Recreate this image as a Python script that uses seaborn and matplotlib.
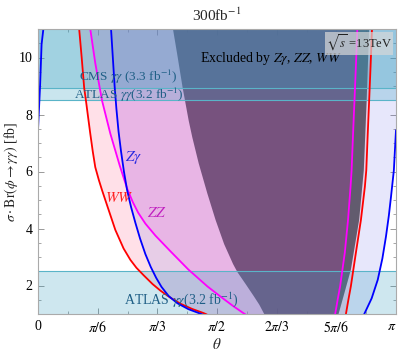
import numpy as np
import matplotlib
matplotlib.use("Agg")
import matplotlib.pyplot as plt
import seaborn as sns

# curves, theta in units of pi
ww_left_t = [0.115, 0.122, 0.129, 0.134, 0.140, 0.146, 0.153, 0.160, 0.170, 0.179, 0.188, 0.200, 0.216,
             0.239, 0.258, 0.275, 0.295, 0.320, 0.342, 0.370, 0.398, 0.430, 0.463, 0.472]
ww_left_y = [11.0, 10.0, 8.93, 8.48, 7.90, 7.33, 6.70, 6.15, 5.70, 5.34, 5.00, 4.55, 3.95,
             3.30, 2.90, 2.62, 2.36, 2.05, 1.82, 1.57, 1.36, 1.18, 1.03, 0.98]
ww_right_t = [0.858, 0.860, 0.867, 0.874, 0.888, 0.902, 0.913, 0.917, 0.921, 0.925, 0.929, 0.933]
ww_right_y = [0.95, 0.99, 1.50, 1.98, 3.15, 4.30, 5.46, 6.04, 7.30, 8.48, 9.70, 11.0]

zz_left_t = [0.146, 0.160, 0.179, 0.202, 0.228, 0.249, 0.265, 0.280, 0.300, 0.328, 0.370, 0.420, 0.473,
             0.513, 0.545, 0.575, 0.580]
zz_left_y = [11.0, 9.80, 8.48, 7.33, 6.22, 5.40, 4.92, 4.55, 4.17, 3.75, 3.20, 2.56, 1.97,
             1.58, 1.28, 1.02, 0.98]
zz_right_t = [0.826, 0.830, 0.837, 0.844, 0.857, 0.866, 0.873, 0.876, 0.880, 0.884, 0.888, 0.892]
zz_right_y = [0.95, 0.99, 1.50, 1.98, 3.15, 4.30, 5.46, 6.04, 7.30, 8.48, 9.70, 11.0]

za_left_t = [0.0, 0.006, 0.010, 0.015]
za_left_y = [7.45, 9.07, 10.46, 11.0]
za_mid_t = [0.204, 0.209, 0.214, 0.219, 0.225, 0.232, 0.240, 0.249, 0.260, 0.272, 0.285, 0.300, 0.315,
            0.330, 0.345, 0.365, 0.389, 0.420, 0.454, 0.462]
za_mid_y = [11.0, 10.0, 9.00, 8.20, 7.40, 6.70, 6.00, 5.34, 4.75, 4.20, 3.65, 3.10, 2.65,
            2.27, 1.95, 1.63, 1.38, 1.17, 1.01, 0.97]
za_right_t = [0.909, 0.911, 0.932, 0.949, 0.962, 0.972, 0.980, 0.986, 0.994, 1.0]
za_right_y = [0.95, 0.99, 1.55, 2.20, 2.95, 3.72, 4.45, 5.11, 6.04, 7.45]

excl_left_t = [0.377, 0.389, 0.404, 0.421, 0.431, 0.449, 0.473, 0.496, 0.520, 0.545, 0.557, 0.580, 0.603,
               0.618, 0.631, 0.634]
excl_left_y = [11.0, 10.1, 8.94, 7.78, 7.20, 6.28, 5.23, 4.30, 3.45, 2.75, 2.47, 2.05, 1.62,
               1.33, 1.02, 0.95]
excl_right_t = [0.838, 0.840, 0.874, 0.897, 0.910, 0.918, 0.925]
excl_right_y = [0.95, 1.02, 2.56, 4.30, 6.04, 8.48, 11.0]

# experimental bands (lower edge of excluded region)
cms_limit = 8.93
atlas_limit = 8.5
atlas_low = 2.5

xtick_pos = [0, 1/6, 1/3, 1/2, 2/3, 5/6, 1]
xtick_lab = ["0", r"$\pi/6$", r"$\pi/3$", r"$\pi/2$", r"$2\pi/3$", r"$5\pi/6$", r"$\pi$"]
ytick_pos = [2, 4, 6, 8, 10]

sns.set_theme(style="ticks")
plt.rcParams["font.family"] = ["Liberation Serif", "DejaVu Serif"]
plt.rcParams["mathtext.fontset"] = "stix"

YMIN, YMAX = 1, 11
fig = plt.figure(figsize=(3.99, 3.54), dpi=100)
ax = fig.add_axes([38 / 399, 1 - 314 / 354, 358 / 399, 285 / 354])


def region(ax, t, y, **kw):
    ax.fill(np.array(t) * np.pi, y, lw=0, **kw)


# WW excluded (above red)
region(ax, ww_left_t + ww_right_t, ww_left_y + ww_right_y, color="#ff4070", alpha=0.16, zorder=1)
# Z gamma excluded (above blue)
region(ax, za_mid_t + za_right_t + [1.0], za_mid_y + za_right_y + [YMAX + 1], color="#6464e6", alpha=0.15, zorder=1)
region(ax, za_left_t + [0.0], za_left_y + [YMAX + 1], color="#6464e6", alpha=0.15, zorder=1)
# combined exclusion
region(ax, excl_left_t + excl_right_t, excl_left_y + excl_right_y, color="#3c374b", alpha=0.88, zorder=2)
# lighter strip of the combined region right of the ZZ branch
region(ax, zz_right_t + excl_right_t[::-1], zz_right_y + excl_right_y[::-1], color="white", alpha=0.1, zorder=2)
# ZZ excluded (above magenta)
region(ax, zz_left_t + zz_right_t, zz_left_y + zz_right_y, color="#eb6ee1", alpha=0.25, zorder=3)

# gamma gamma bands
band_c = "#329ebe"
ax.axhspan(cms_limit, YMAX + 1, color=band_c, alpha=0.26, lw=0, zorder=4)
ax.axhspan(atlas_limit, YMAX + 1, color=band_c, alpha=0.26, lw=0, zorder=4)
ax.axhspan(YMIN - 1, atlas_low, color=band_c, alpha=0.24, lw=0, zorder=4)
for yy in [cms_limit, atlas_limit, atlas_low]:
    ax.axhline(yy, color="#5ab4c8", lw=0.8, zorder=4)

# curves
lw = 1.3
for t, y, c in [(ww_left_t, ww_left_y, "#ff0000"), (ww_right_t, ww_right_y, "#ff0000"),
                (zz_left_t, zz_left_y, "#ff00ff"), (zz_right_t, zz_right_y, "#ff00ff"),
                (za_left_t, za_left_y, "#0000ff"), (za_mid_t, za_mid_y, "#0000ff"),
                (za_right_t, za_right_y, "#0000ff")]:
    sns.lineplot(x=np.array(t) * np.pi, y=y, sort=False, color=c, lw=lw, ax=ax, zorder=5)

# labels
band_txt = "#1f5f86"
ax.text(0.253 * np.pi, 9.30, r"CMS $\gamma\gamma$ (3.3 fb$^{-1}$)", color=band_txt, fontsize=9.5,
        ha="center", va="center", zorder=6)
ax.text(0.253 * np.pi, 8.68, r"ATLAS $\gamma\gamma$(3.2 fb$^{-1}$)", color=band_txt, fontsize=9.5,
        ha="center", va="center", zorder=6)
ax.text(0.401 * np.pi, 1.51, r"ATLAS $\gamma\gamma$(3.2 fb$^{-1}$)", color=band_txt, fontsize=10,
        ha="center", va="center", zorder=6)
ax.text(0.65 * np.pi, 9.98, r"Excluded by $Z\gamma$, $ZZ$, $WW$", color="black", fontsize=10,
        ha="center", va="center", zorder=6)
ax.text(0.267 * np.pi, 6.49, r"$Z\gamma$", color="#2a2ae0", fontsize=11, ha="center", va="center", zorder=6)
ax.text(0.228 * np.pi, 5.07, r"$WW$", color="#ff2020", fontsize=11, ha="center", va="center", zorder=6)
ax.text(0.333 * np.pi, 4.54, r"$ZZ$", color="#c020c0", fontsize=11, ha="center", va="center", zorder=6)
ax.text(0.897 * np.pi, 10.5, r"$\sqrt{s}$ =13TeV", color="#222222", fontsize=9, ha="center", va="center",
        zorder=6, bbox=dict(facecolor="#d8d8d8", alpha=0.7, edgecolor="none", pad=0.8))

ax.set_xlim(0, np.pi)
ax.set_ylim(YMIN, YMAX)
ax.set_xticks(np.array(xtick_pos) * np.pi)
ax.set_xticklabels(xtick_lab)
ax.get_xticklabels()[-1].set_horizontalalignment("right")
ax.set_xticks(np.arange(1, 12, 2) * np.pi / 12, minor=True)
ax.set_yticks(ytick_pos)
ax.set_yticks(np.arange(1, 11.01, 0.5), minor=True)
ax.tick_params(which="both", direction="in", top=True, right=True, labelsize=10, color="#999999",
               labelcolor="black", pad=4)
ax.tick_params(which="major", length=4, width=0.7)
ax.tick_params(which="minor", length=2.5, width=0.6)
for s in ax.spines.values():
    s.set_color("#aaaaaa")
    s.set_linewidth(0.8)
    s.set_zorder(7)

ax.set_xlabel(r"$\theta$", fontsize=11, labelpad=2)
ax.set_ylabel(r"$\sigma\cdot\mathrm{Br}(\phi\to\gamma\gamma)$ [fb]", fontsize=10)
ax.yaxis.set_label_coords(-0.05, 0.5)
ax.set_title(r"300fb$^{-1}$", fontsize=11, pad=6)

fig.savefig("out.png", dpi=100)
